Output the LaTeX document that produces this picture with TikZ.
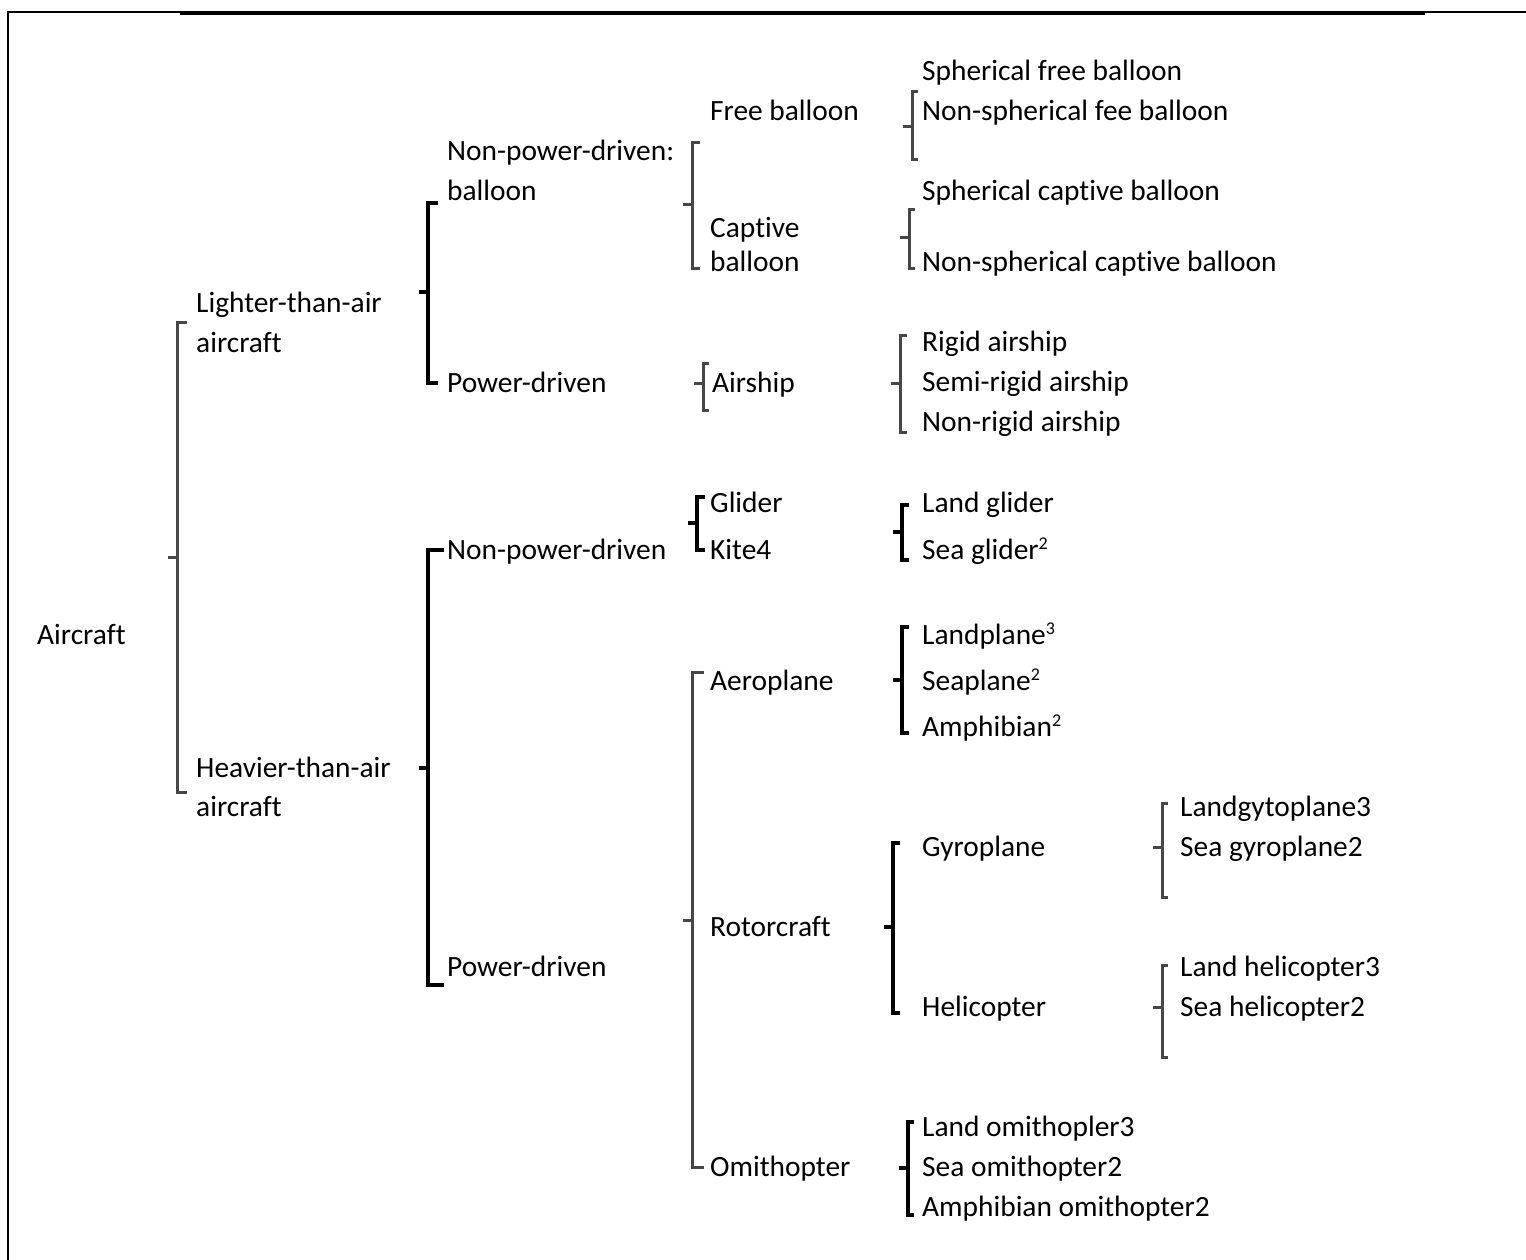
\documentclass[tikz,border=0pt]{standalone}
\usepackage{fontspec}
\setmainfont{Carlito}[Ligatures=NoCommon]
\tikzset{
  lbl/.style={anchor=base west, inner sep=0pt, font=\fontsize{29.4}{35}\selectfont},
  greybr/.style={draw=black!72, line width=3pt},
  blackbr/.style={draw=black, line width=3.6pt},
  frameline/.style={draw=black, line width=2pt}
}
% bracket: {style}{x}{top}{bottom}{mid}{tick length}
\newcommand\bracketdraw[6]{%
  \draw[#1, line join=miter] (#2+#6,#3) -- (#2,#3) -- (#2,#4) -- (#2+#6,#4);
  \draw[#1] (#2,#5) -- (#2-9,#5);}
\newcommand\lab[4]{\node[lbl] (#1) at (#2,#3+9) {#4};}
\newcommand\supnum[1]{\raisebox{10pt}{\fontsize{18}{18}\selectfont #1}}
\begin{document}
\begin{tikzpicture}[x=1pt,y=-1pt]
\useasboundingbox (0,0) rectangle (1526,1260);
% frame
\draw[frameline] (8,1262) -- (8,12) -- (180,12);
\draw[black, line width=4.5pt] (180,13) -- (1425,13);
\draw[frameline] (1425,12) -- (1528,12);

% labels
\lab{air}{37}{635}{Aircraft}
\lab{lta1}{196}{303}{Lighter-than-air}
\lab{lta2}{196}{343}{aircraft}
\lab{hta1}{196}{768}{Heavier-than-air}
\lab{hta2}{196}{807}{aircraft}
\lab{npb1}{447}{152}{Non-power-driven:}
\lab{npb2}{447}{192}{balloon}
\lab{pd1}{447}{383}{Power-driven}
\lab{npd}{447}{550}{Non-power-driven}
\lab{pd2}{447}{967}{Power-driven}
\lab{free}{710}{112}{Free balloon}
\lab{capt1}{710}{228}{Captive}
\lab{capt2}{710}{263}{balloon}
\lab{airship}{712}{383}{Airship}
\lab{glider}{710}{503}{Glider}
\lab{kite}{710}{550}{Kite4}
\lab{aero}{710}{681}{Aeroplane}
\lab{rotor}{710}{927}{Rotorcraft}
\lab{omi}{710}{1167}{Omithopter}
\lab{sfb}{922}{72}{Spherical free balloon}
\lab{nsfb}{922}{112}{Non-spherical fee balloon}
\lab{scb}{922}{192}{Spherical captive balloon}
\lab{nscb}{922}{263}{Non-spherical captive balloon}
\lab{rig}{922}{342}{Rigid airship}
\lab{srig}{922}{382}{Semi-rigid airship}
\lab{nrig}{922}{422}{Non-rigid airship}
\lab{lg}{922}{503}{Land glider}
\lab{sg}{922}{550}{Sea glider\supnum{2}}
\lab{lp}{922}{635}{Landplane\supnum{3}}
\lab{sp}{922}{681}{Seaplane\supnum{2}}
\lab{amph}{922}{727}{Amphibian\supnum{2}}
\lab{gyro}{922}{847}{Gyroplane}
\lab{heli}{922}{1007}{Helicopter}
\lab{lgy}{1180}{807}{Landgytoplane3}
\lab{sgy}{1180}{847}{Sea gyroplane2}
\lab{lh}{1180}{967}{Land helicopter3}
\lab{sh}{1180}{1007}{Sea helicopter2}
\lab{lo}{922}{1127}{Land omithopler3}
\lab{so}{922}{1167}{Sea omithopter2}
\lab{ao}{922}{1207}{Amphibian omithopter2}

% brackets
\bracketdraw{greybr}{177}{322}{792}{557}{10}
\bracketdraw{blackbr}{428}{203}{383}{292}{10}
\bracketdraw{blackbr}{428}{550}{985}{768}{16}
\bracketdraw{greybr}{692}{143}{268}{205}{8}
\bracketdraw{greybr}{703}{363}{410}{383}{6}
\bracketdraw{blackbr}{697}{497}{550}{523}{8}
\bracketdraw{greybr}{692}{672}{1167}{920}{12}
\bracketdraw{greybr}{912}{92}{160}{127}{6}
\bracketdraw{greybr}{909}{210}{268}{238}{6}
\bracketdraw{greybr}{900}{335}{432}{383}{7}
\bracketdraw{blackbr}{902}{505}{560}{532}{7}
\bracketdraw{blackbr}{902}{627}{733}{680}{7}
\bracketdraw{blackbr}{893}{843}{1013}{927}{7}
\bracketdraw{greybr}{1162}{803}{897}{847}{6}
\bracketdraw{greybr}{1162}{965}{1057}{1007}{6}
\bracketdraw{blackbr}{908}{1122}{1215}{1168}{6}
\end{tikzpicture}
\end{document}
